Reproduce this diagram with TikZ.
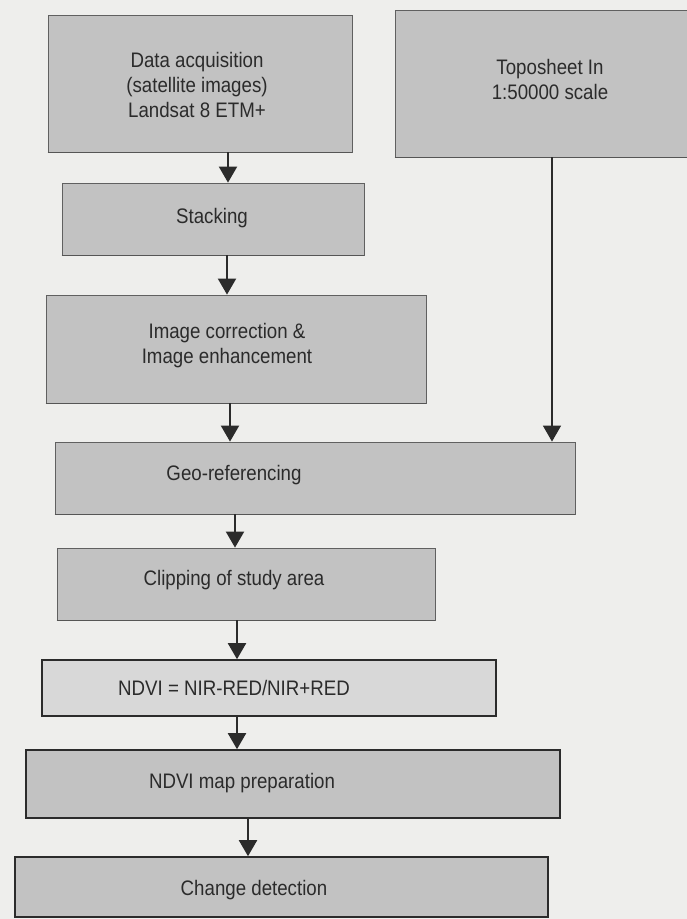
\documentclass[tikz,border=0pt]{standalone}
\usepackage{fontspec}
\setmainfont{Liberation Sans}[FakeStretch=0.89]
\usetikzlibrary{arrows.meta}
\definecolor{scanbg}{HTML}{EEEEEC}
\definecolor{boxgray}{HTML}{C2C2C2}
\definecolor{boxlight}{HTML}{D8D8D8}
\definecolor{ink}{HTML}{2B2B2B}
\tikzset{
  stage/.style={draw=gray!75!black, line width=0.8pt, fill=boxgray, inner sep=0pt},
  framed/.style={draw=ink, line width=1.6pt, fill=boxgray, inner sep=0pt},
  caption/.style={text=ink, font=\fontsize{21}{25}\selectfont, align=center, inner sep=0pt},
  flow/.style={-{Triangle[length=16pt,width=18pt]}, line width=2pt, draw=ink},
}
\begin{document}
\begin{tikzpicture}[x=1pt,y=-1pt]
 \useasboundingbox[fill=scanbg] (0,0) rectangle (687,919);
 % boxes
 \node[stage, minimum width=304pt, minimum height=137pt] (acq) at (200,83.5) {};
 \node[stage, minimum width=300pt, minimum height=147pt] (topo) at (545,83.5) {};
 \node[stage, minimum width=302pt, minimum height=72pt] (stack) at (213,219) {};
 \node[stage, minimum width=380pt, minimum height=108pt] (corr) at (236,349) {};
 \node[stage, minimum width=520pt, minimum height=72pt] (geo) at (315,478) {};
 \node[stage, minimum width=378pt, minimum height=72pt] (clip) at (246,584) {};
 \node[framed, fill=boxlight, minimum width=454pt, minimum height=56pt] (ndvi) at (269,688) {};
 \node[framed, minimum width=534pt, minimum height=68pt] (map) at (293,784) {};
 \node[framed, minimum width=533pt, minimum height=60pt] (change) at (281.5,887) {};
 \foreach \b in {acq,topo,stack,corr,geo,clip}
   \draw[ink!80, line width=1.6pt] (\b.south west) -- (\b.south east);
 % texts
 \node[caption] (acq-t) at (197,85) {Data acquisition\\(satellite images)\\Landsat 8 ETM+};
 \node[caption] (topo-t) at (550,79.5) {Toposheet In\\1:50000 scale};
 \node[caption] (stack-t) at (212,218) {Stacking};
 \node[caption] (corr-t) at (227,345.5) {Image correction \&\\Image enhancement};
 \node[caption] (geo-t) at (234,475) {Geo-referencing};
 \node[caption] (clip-t) at (234,580) {Clipping of study area};
 \node[caption] (ndvi-t) at (234,688) {NDVI = NIR-RED/NIR+RED};
 \node[caption] (map-t) at (242,783) {NDVI map preparation};
 \node[caption] (change-t) at (254,890) {Change detection};
 % arrows
 \coordinate (c1) at (228,0); \coordinate (c2) at (227,0);
 \coordinate (c3) at (230,0); \coordinate (c4) at (235,0);
 \coordinate (c5) at (237,0); \coordinate (c6) at (248,0);
 \coordinate (c7) at (552,0);
 \draw[flow] (acq.south -| c1) -- (stack.north -| c1);
 \draw[flow] (stack.south -| c2) -- (corr.north -| c2);
 \draw[flow] (corr.south -| c3) -- (geo.north -| c3);
 \draw[flow] (geo.south -| c4) -- (clip.north -| c4);
 \draw[flow] (clip.south -| c5) -- (ndvi.north -| c5);
 \draw[flow] (ndvi.south -| c5) -- (map.north -| c5);
 \draw[flow] (map.south -| c6) -- (change.north -| c6);
 \draw[flow, line width=1.4pt] (topo.south -| c7) -- (geo.north -| c7);
\end{tikzpicture}
\end{document}
